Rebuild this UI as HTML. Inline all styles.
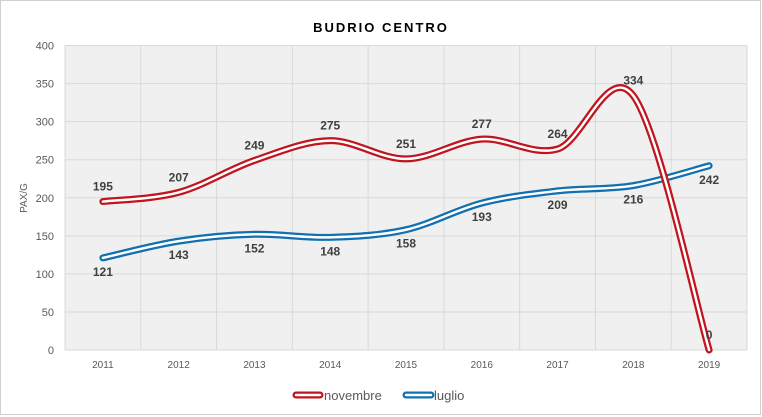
<!DOCTYPE html>
<html><head><meta charset="utf-8"><style>
body{margin:0;background:#fff;}
svg{display:block;font-family:"Liberation Sans",Calibri,sans-serif;}
</style></head><body>
<svg id="chart" width="762" height="417" viewBox="0 0 762 417">
<rect x="0.5" y="0.5" width="760" height="414" fill="#fff" stroke="#d0d0d0"/>
<text x="381" y="32" text-anchor="middle" font-size="13" font-weight="bold" letter-spacing="2" fill="#000">BUDRIO CENTRO</text>
<rect x="65" y="45.5" width="682" height="304.5" fill="#f0f0f0"/>
<g id="grid"></g>
<g id="yticks"></g>
<g id="xticks"></g>
<text transform="translate(27,198) rotate(-90)" text-anchor="middle" font-size="10" fill="#595959">PAX/G</text>
<g id="series"></g>
<g id="labels"></g>
<g>
<g>
<line x1="296" y1="395" x2="320" y2="395" stroke="#c0141e" stroke-width="7" stroke-linecap="round"/>
<line x1="296" y1="395" x2="320" y2="395" stroke="#fff" stroke-width="2.5" stroke-linecap="round"/>
<text x="324" y="400" font-size="13" fill="#595959">novembre</text></g>
<g>
<line x1="406" y1="395" x2="431" y2="395" stroke="#1070b0" stroke-width="7" stroke-linecap="round"/>
<line x1="406" y1="395" x2="431" y2="395" stroke="#fff" stroke-width="2.5" stroke-linecap="round"/>
<text x="434" y="400" font-size="13" fill="#595959">luglio</text></g>
</g>
</svg>
<script>
const categories = ["2011","2012","2013","2014","2015","2016","2017","2018","2019"];
const novembre = [195,207,249,275,251,277,264,334,0];
const luglio = [121,143,152,148,158,193,209,216,242];
const yTicks = [0,50,100,150,200,250,300,350,400];
const NS="http://www.w3.org/2000/svg";
const L=65,R=747,T=45.5,B=350,yMax=400;
const bw=(R-L)/categories.length;
function xs(i){return L+bw*(i+0.5);}
function ys(v){return B-(v/yMax)*(B-T);}
function mk(tag,attrs,parent){const e=document.createElementNS(NS,tag);for(const k in attrs)e.setAttribute(k,attrs[k]);parent.appendChild(e);return e;}
const grid=document.getElementById('grid'),yt=document.getElementById('yticks'),xt=document.getElementById('xticks');
yTicks.forEach(v=>{
 const ln=mk('line',{x1:L,x2:R,y1:ys(v),y2:ys(v),stroke:'#d9d9d9','stroke-width':1},grid);
 
 
 const t=mk('text',{x:54,y:ys(v)+4,'text-anchor':'end','font-size':11,fill:'#595959'},yt);
 t.textContent=v;
 
 
});
for(let i=0;i<=categories.length;i++){
 const ln=mk('line',{x1:L+bw*i,x2:L+bw*i,y1:T,y2:B,stroke:'#d9d9d9','stroke-width':1},grid);
 
 
}
categories.forEach((c,i)=>{
 const t=mk('text',{x:xs(i),y:368,'text-anchor':'middle','font-size':10,fill:'#595959'},xt);
 t.textContent=c;
 
 
});
function smooth(vals){
 const p=vals.map((v,i)=>[xs(i),ys(v)]);
 let d='M'+p[0][0]+','+p[0][1];
 for(let i=0;i<p.length-1;i++){
  const p0=p[i-1]||p[i],p1=p[i],p2=p[i+1],p3=p[i+2]||p[i+1];
  const c1=[p1[0]+(p2[0]-p0[0])/6,p1[1]+(p2[1]-p0[1])/6];
  const c2=[p2[0]-(p3[0]-p1[0])/6,p2[1]-(p3[1]-p1[1])/6];
  d+=` C${c1[0]},${c1[1]} ${c2[0]},${c2[1]} ${p2[0]},${p2[1]}`;
 }
 return d;
}
const sg=document.getElementById('series'),lg=document.getElementById('labels');
[[luglio,'#1070b0','luglio',14],[novembre,'#c0141e','novembre',-11]].forEach(([vals,col,name,off])=>{
 const d=smooth(vals);
 const a=mk('path',{d:d,fill:'none',stroke:col,'stroke-width':7,'stroke-linecap':'round'},sg);
 
 
 const b=mk('path',{d:d,fill:'none',stroke:'#fff','stroke-width':2.5,'stroke-linecap':'round'},sg);
 
 
 vals.forEach((v,i)=>{
  const t=mk('text',{x:xs(i),y:ys(v)+off+(off>0?4:0),'text-anchor':'middle','font-size':12,'font-weight':'bold',fill:'#404040'},lg);
  t.textContent=v;
  
  
 });
});
</script>
</body></html>
